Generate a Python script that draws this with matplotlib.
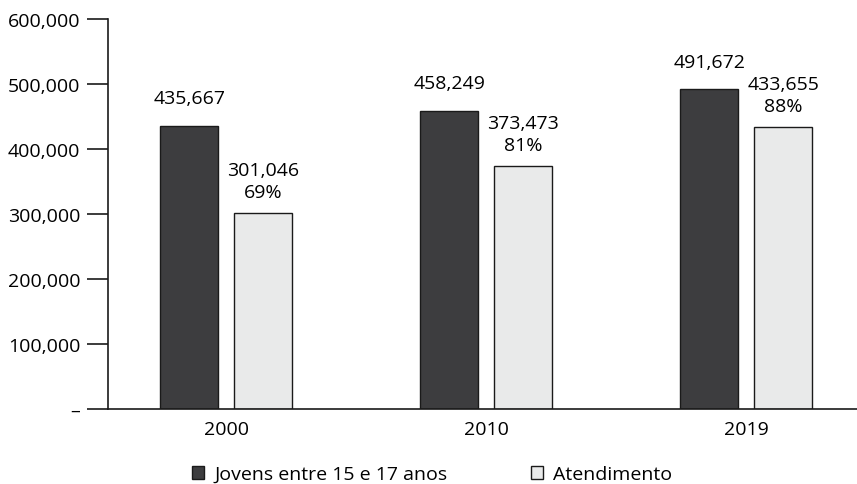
import numpy as np
import matplotlib.pyplot as plt
from matplotlib.ticker import FuncFormatter
from matplotlib.patches import Patch

plt.rcParams['font.family'] = ['Open Sans', 'DejaVu Sans']
plt.rcParams['font.size'] = 14

# data
anos = ['2000', '2010', '2019']
jovens = [435667, 458249, 491672]
atendimento = [301046, 373473, 433655]
percentuais = ['69%', '81%', '88%']

cor_escura = '#3d3d3f'
cor_clara = '#e9eaea'

fig = plt.figure(figsize=(8.57, 4.85), dpi=100)
ax = fig.add_axes([108 / 857, 1 - 410 / 485, 749 / 857, 390 / 485])

x = np.arange(len(anos))
w = 0.223
off = 0.142
ax.bar(x - off, jovens, w, color=cor_escura, edgecolor='#1a1a1a', linewidth=1)
ax.bar(x + off, atendimento, w, color=cor_clara, edgecolor='#1a1a1a', linewidth=1)

for xi, v in zip(x, jovens):
    ax.text(xi - off, v + 35000, f'{v:,}', ha='center', va='baseline')
for xi, v, p in zip(x, atendimento, percentuais):
    ax.text(xi + off, v + 25000, f'{v:,}\n{p}', ha='center', va='baseline',
            linespacing=1.3)

ax.set_xlim(-0.454, 2.426)
ax.set_ylim(0, 600000)
ax.set_yticks(np.arange(0, 600001, 100000))
ax.yaxis.set_major_formatter(FuncFormatter(lambda v, _: '–' if v == 0 else f'{int(v):,}'))
ax.set_xticks(x)
ax.set_xticklabels(anos)
ax.tick_params(axis='x', length=0, pad=8)
ax.tick_params(axis='y', length=15, width=1.2, color='#1a1a1a', pad=5)

for s in ['top', 'right']:
    ax.spines[s].set_visible(False)
ax.spines['left'].set_linewidth(1.2)
ax.spines['bottom'].set_linewidth(1.2)
ax.spines['left'].set_color('#1a1a1a')
ax.spines['bottom'].set_color('#1a1a1a')

handles = [Patch(facecolor=cor_escura, edgecolor='#1a1a1a', label='Jovens entre 15 e 17 anos'),
           Patch(facecolor=cor_clara, edgecolor='#1a1a1a', label='Atendimento')]
fig.legend(handles=handles, loc='center', bbox_to_anchor=(432 / 857, 1 - 475 / 485),
           ncol=2, frameon=False, handlelength=0.65, handleheight=0.65,
           handletextpad=0.5, columnspacing=4.3, borderpad=0)

fig.savefig('out.png', dpi=100)
